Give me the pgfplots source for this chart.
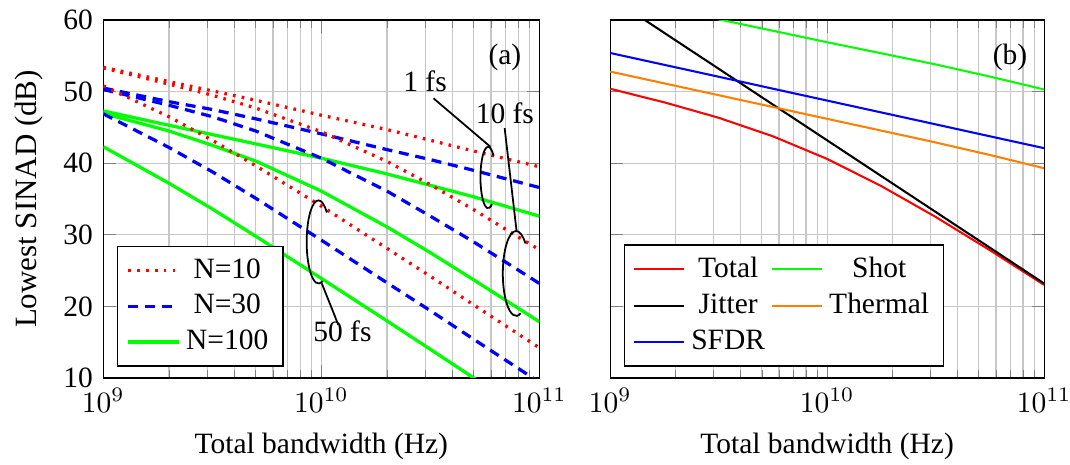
\documentclass[border=0pt]{standalone}
\usepackage{fontspec}
\setmainfont{Liberation Serif}
\usepackage{pgfplots}
\pgfplotsset{compat=1.18}
\tikzset{
  rdot/.style={red, line width=1.1pt, dash pattern=on 0.9pt off 2.1pt},
  bdash/.style={blue, line width=1.1pt, dash pattern=on 3.4pt off 2.3pt},
  gsol/.style={green, line width=1.1pt},
}
\begin{document}
\begin{tikzpicture}
\begin{axis}[xmode=log, scale only axis, height=121.4pt, width=147.9pt,
    xmin=1e9, xmax=1e11, ymin=10, ymax=60,
    ytick={10,20,30,40,50,60},
    yticklabel style={/pgf/number format/assume math mode=true},
    xmajorgrids, xminorgrids, ymajorgrids,
    major grid style={black!22, line width=0.4pt},
    minor grid style={black!22, line width=0.4pt},
    xlabel={Total bandwidth (Hz)},
    ylabel={\fontsize{10.5}{12}\selectfont Lowest SINAD (dB)},
    legend cell align=center,
    legend style={draw=black, at={(0.032,0.032)}, anchor=south west}]
% 1 fs
\addplot[rdot] coordinates {(1e9,53.4)(2e9,51.4)(3.162e9,50.1)(5e9,48.8)(1e10,46.7)(2e10,44.7)(3.162e10,43.2)(5e10,41.7)(1e11,39.5)};
\addlegendentry{N=10}
\addplot[bdash] coordinates {(1e9,50.5)(2e9,48.6)(3.162e9,47.5)(5e9,46.2)(1e10,44.1)(2e10,41.9)(3.162e10,40.5)(5e10,39.0)(1e11,36.6)};
\addlegendentry{N=30}
\addplot[gsol] coordinates {(1e9,47.3)(2e9,45.3)(3.162e9,44.0)(5e9,42.7)(1e10,40.7)(2e10,38.5)(3.162e10,36.9)(5e10,35.3)(1e11,32.6)};
\addlegendentry{N=100}
% 10 fs
\addplot[rdot, forget plot] coordinates {(1e9,53.3)(2e9,51.05)(3.162e9,49.5)(5e9,47.7)(1e10,44.4)(2e10,40.25)(3.162e10,37.0)(5e10,33.5)(1e11,27.9)};
\addplot[bdash, forget plot] coordinates {(1e9,50.3)(2e9,48.1)(3.162e9,46.5)(5e9,44.5)(1e10,40.7)(2e10,36.1)(3.162e10,32.6)(5e10,29.0)(1e11,23.2)};
\addplot[gsol, forget plot] coordinates {(1e9,46.95)(2e9,44.5)(3.162e9,42.5)(5e9,40.3)(1e10,36.1)(2e10,31.1)(3.162e10,27.5)(5e10,23.7)(1e11,17.85)};
% 50 fs
\addplot[rdot, forget plot] coordinates {(1e9,50.8)(2e9,46.5)(3.162e9,43.2)(5e9,39.65)(1e10,34.0)(2e10,28.1)(3.162e10,24.2)(5e10,20.2)(1e11,14.2)};
\addplot[bdash, forget plot] coordinates {(1e9,46.9)(2e9,42.2)(3.162e9,38.8)(5e9,35.1)(1e10,29.25)(2e10,23.3)(3.162e10,19.4)(5e10,15.4)(1e11,9.4)};
\addplot[gsol, forget plot] coordinates {(1e9,42.3)(2e9,37.2)(3.162e9,33.6)(5e9,29.8)(1e10,23.9)(2e10,17.97)(3.162e10,14.0)(5e10,10.0)(1e11,4.0)};
% annotations
\node at (axis cs:6.95e10,54.8) {(a)};
\node at (axis cs:2.99e10,51.4) {1 fs};
\node at (axis cs:6.95e10,47.0) {10 fs};
\node at (axis cs:1.25e10,16.5) {50 fs};
\draw[black, line width=0.6pt] ([shift={(1.84pt,7.35pt)}]axis cs:5.82e10,38.0) arc[start angle=45, end angle=300, x radius=2.6pt, y radius=10.4pt];
\draw[black, line width=0.6pt] ([shift={(3.18pt,10.18pt)}]axis cs:7.82e10,24.6) arc[start angle=45, end angle=290, x radius=4.5pt, y radius=14.4pt];
\draw[black, line width=0.6pt] ([shift={(2.83pt,9.97pt)}]axis cs:9.7e9,29.0) arc[start angle=45, end angle=290, x radius=4.0pt, y radius=14.1pt];
\draw[black, line width=0.6pt] (axis cs:3.27e10,49.06) -- (axis cs:5.96e10,42.3);
\draw[black, line width=0.6pt] (axis cs:6.93e10,44.9) -- (axis cs:7.87e10,30.4);
\draw[black, line width=0.6pt] (axis cs:1.005e10,23.2) -- (axis cs:1.197e10,17.4);
\end{axis}
\begin{axis}[xshift=171.9pt, xmode=log, scale only axis, height=121.4pt, width=147.2pt,
    xmin=1e9, xmax=1e11, ymin=10, ymax=60,
    ytick={10,20,30,40,50,60}, yticklabels={},
    xmajorgrids, xminorgrids, ymajorgrids,
    major grid style={black!22, line width=0.4pt},
    minor grid style={black!22, line width=0.4pt},
    xlabel={Total bandwidth (Hz)},
    legend columns=2,
    legend cell align=center,
    legend style={draw=black, at={(0.031,0.032)}, anchor=south west}]
\addplot[red, line width=0.7pt] coordinates {(1e9,50.4)(1.778e9,48.5)(3.162e9,46.35)(5.623e9,43.76)(1e10,40.6)(1.778e10,36.8)(3.162e10,32.5)(5.623e10,27.85)(1e11,23.0)};
\addlegendentry{Total}
\addplot[green, line width=0.7pt] coordinates {(1e9,63.4)(1.778e9,61.75)(3.162e9,60.1)(5.623e9,58.5)(1e10,56.9)(1.778e10,55.35)(3.162e10,53.8)(5.623e10,52.1)(1e11,50.3)};
\addlegendentry{Shot}
\addplot[black, line width=0.7pt] coordinates {(1e9,63.2)(1.778e9,58.2)(3.162e9,53.2)(5.623e9,48.2)(1e10,43.2)(1.778e10,38.2)(3.162e10,33.2)(5.623e10,28.2)(1e11,23.2)};
\addlegendentry{Jitter}
\addplot[orange, line width=0.7pt] coordinates {(1e9,52.8)(1.778e9,51.15)(3.162e9,49.5)(5.623e9,47.85)(1e10,46.2)(1.778e10,44.55)(3.162e10,42.9)(5.623e10,41.15)(1e11,39.3)};
\addlegendentry{Thermal}
\addplot[blue, line width=0.7pt] coordinates {(1e9,55.4)(1.778e9,53.74)(3.162e9,52.08)(5.623e9,50.41)(1e10,48.75)(1.778e10,47.09)(3.162e10,45.43)(5.623e10,43.76)(1e11,42.1)};
\addlegendentry{SFDR}
\node at (axis cs:6.97e10,54.8) {(b)};
\end{axis}
\pgfresetboundingbox
\path[use as bounding box] (-35.04pt,-29.5pt) rectangle (327.9pt,128.2pt);
\end{tikzpicture}
\end{document}
